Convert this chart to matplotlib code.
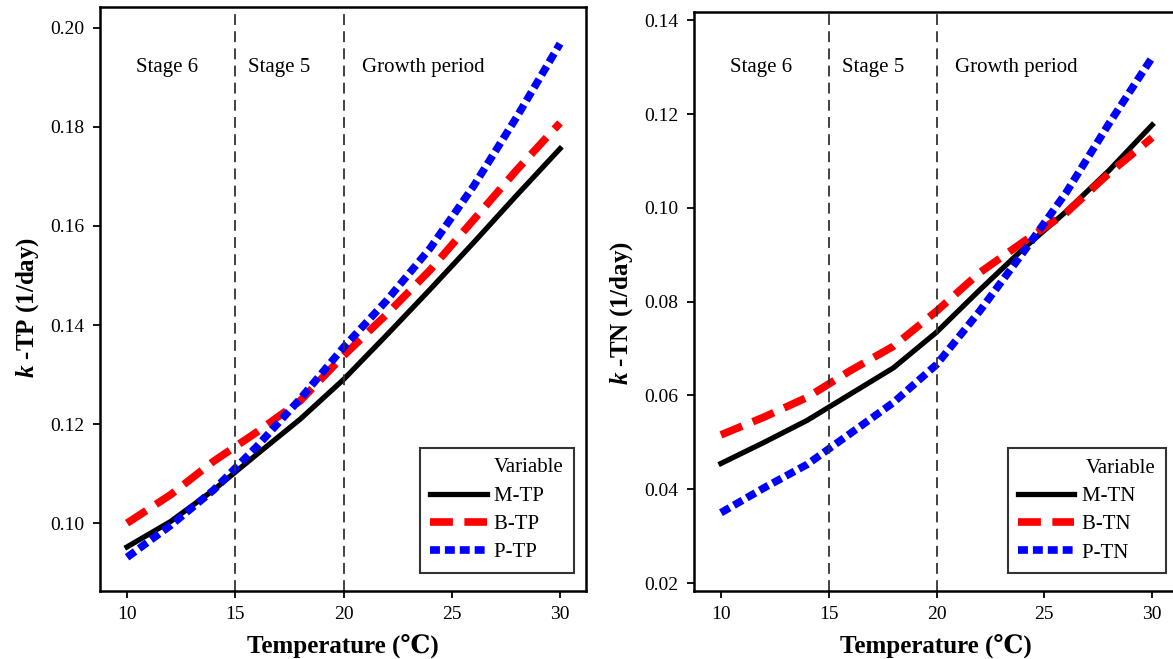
import matplotlib
matplotlib.use("Agg")
import matplotlib.pyplot as plt
from matplotlib.lines import Line2D

plt.rcParams['font.family'] = ['Liberation Serif', 'DejaVu Serif', 'DejaVu Sans']
plt.rcParams['mathtext.fontset'] = 'custom'
plt.rcParams['mathtext.it'] = 'Liberation Serif:italic:bold'
plt.rcParams['mathtext.rm'] = 'Liberation Serif:bold'

temperature = [10, 12, 14, 16, 18, 20, 22, 24, 26, 28, 30]

m_tp = [0.0952, 0.1003, 0.1067, 0.1139, 0.1210, 0.1290, 0.1380, 0.1472, 0.1566, 0.1662, 0.1756]
b_tp = [0.1000, 0.1057, 0.1125, 0.1184, 0.1247, 0.1338, 0.1422, 0.1511, 0.1612, 0.1713, 0.1808]
p_tp = [0.0931, 0.0995, 0.1067, 0.1155, 0.1251, 0.1355, 0.1450, 0.1555, 0.1680, 0.1820, 0.1968]

m_tn = [0.0455, 0.0500, 0.0547, 0.0603, 0.0659, 0.0735, 0.0825, 0.0912, 0.0992, 0.1080, 0.1177]
b_tn = [0.0516, 0.0554, 0.0596, 0.0653, 0.0705, 0.0780, 0.0862, 0.0927, 0.0989, 0.1074, 0.1150]
p_tn = [0.0350, 0.0403, 0.0453, 0.0519, 0.0585, 0.0666, 0.0780, 0.0904, 0.1032, 0.1180, 0.1321]

stage_bounds = [15, 20]
stage_labels = ["Stage 6", "Stage 5", "Growth period"]
stage_label_x = [10.42, 15.6, 20.85]
x_ticks = [10, 15, 20, 25, 30]
tp_ticks = [0.10, 0.12, 0.14, 0.16, 0.18, 0.20]
tn_ticks = [0.02, 0.04, 0.06, 0.08, 0.10, 0.12, 0.14]

fig = plt.figure(figsize=(11.73, 6.59), dpi=100)
ax1 = fig.add_axes([100/1173, 1 - 591/659, 486/1173, 584/659])
ax2 = fig.add_axes([694/1173, 1 - 591/659, 484/1173, 579/659])

styles = [
    dict(color='black', lw=3.8, ls='-'),
    dict(color='red', lw=5.5, ls=(0, (3.0, 1.5)), dash_capstyle='butt'),
    dict(color='blue', lw=5.5, ls=(0, (1.3, 0.65)), dash_capstyle='butt'),
]

def panel(ax, series, names, ylim, yticks, ylabel, stage_y, ylab_y):
    for s, st in zip(series, styles):
        ax.plot(temperature, s, **st)
    for b in stage_bounds:
        ax.axvline(b, color='#333333', lw=1.3, ls=(0, (6, 3.5)))
    ax.set_xlim(8.75, 31.2)
    ax.set_ylim(*ylim)
    ax.set_xticks(x_ticks)
    ax.set_yticks(yticks)
    ax.set_yticklabels([f"{t:.2f}" for t in yticks])
    ax.tick_params(direction='out', length=5, width=1.3, labelsize=14, pad=6,
                   top=False, right=False)
    for sp in ax.spines.values():
        sp.set_linewidth(1.8)
    ax.set_xlabel("Temperature (\u2103)", fontsize=18, fontweight='bold', labelpad=8)
    ax.set_ylabel(ylabel, fontsize=18, fontweight='bold')
    ax.yaxis.set_label_coords(-0.122, ylab_y)
    for lx, lt in zip(stage_label_x, stage_labels):
        ax.text(lx, stage_y, lt, fontsize=15, ha='left', va='center')
    handles = [Line2D([0], [0], **st) for st in styles]
    leg = ax.legend(handles, [n + "    " for n in names], title="Variable", loc='lower right',
                    fontsize=15, title_fontsize=15, frameon=True, fancybox=False,
                    edgecolor='black', handlelength=2.7, borderpad=0.5,
                    labelspacing=0.42, handletextpad=0.35, borderaxespad=0,
                    bbox_to_anchor=(0.976, 0.031))
    leg.get_frame().set_linewidth(1.5)
    leg._legend_box.align = "right"

panel(ax1, [m_tp, b_tp, p_tp], ["M-TP", "B-TP", "P-TP"], (0.0863, 0.2042), tp_ticks,
      r"$k$ -TP (1/day)", 0.1919, 0.485)
panel(ax2, [m_tn, b_tn, p_tn], ["M-TN", "B-TN", "P-TN"], (0.0183, 0.1418), tn_ticks,
      r"$k$ -TN (1/day)", 0.1300, 0.48)

fig.savefig("out.png", dpi=100)
